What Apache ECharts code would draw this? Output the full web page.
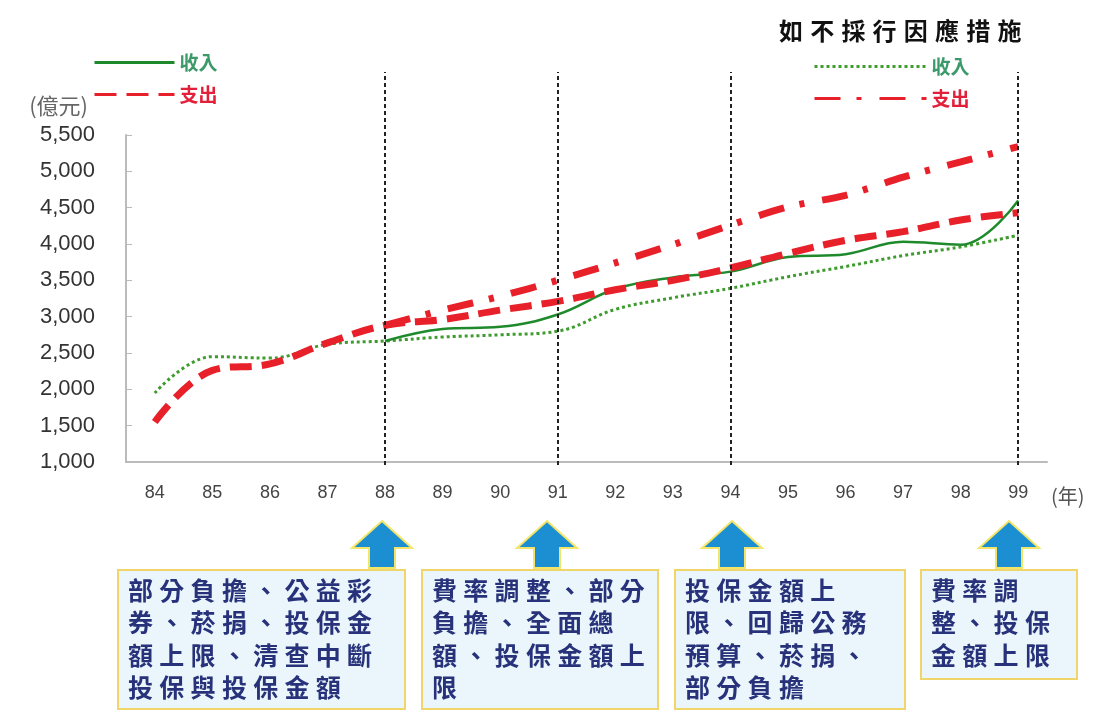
<!DOCTYPE html>
<html>
<head>
<meta charset="utf-8">
<title>健保收支</title>
<script src="https://cdn.jsdelivr.net/npm/echarts@6.0.0/dist/echarts.min.js"></script>
<style>
  html, body { margin: 0; padding: 0; background: #fff; }
  #chart { width: 1099px; height: 711px; }
</style>
</head>
<body>
<div id="chart"></div>
<script>
  // 年度 (民國)
  const years = ['84','85','86','87','88','89','90','91','92','93','94','95','96','97','98','99'];
  // 收入 (實線, 88年起)
  const income = ['-','-','-','-',2665,2830,2860,3030,3380,3540,3620,3820,3860,4030,3990,4600];
  // 支出 (虛線)
  const expense = [1550,2260,2350,2640,2880,2960,3090,3210,3370,3500,3670,3870,4050,4170,4330,4430];
  // 如不採行因應措施 收入 (點線)
  const incomeNoAction = [1950,2450,2430,2620,2665,2720,2750,2800,3100,3260,3390,3550,3690,3840,3960,4120];
  // 如不採行因應措施 支出 (點虛線)
  const expenseNoAction = ['-','-','-','-',2880,3090,3280,3500,3740,3990,4260,4510,4670,4920,5130,5340];
  // 政策調整的年度 (垂直虛線)
  const policyYears = ['88','91','94','99'];
  // 下方說明框文字
  const notes = [
    ['部分負擔、公益彩','券、菸捐、投保金','額上限、清查中斷','投保與投保金額'],
    ['費率調整、部分','負擔、全面總','額、投保金額上','限'],
    ['投保金額上','限、回歸公務','預算、菸捐、','部分負擔'],
    ['費率調','整、投保','金額上限']
  ];
  const title = '如不採行因應措施';

  const CJK = '"Noto Sans CJK TC", "Noto Sans CJK SC", sans-serif';
  const green = '#1f8a2c';
  const greenDot = '#3e9b2e';
  const red = '#e8202a';
  const legendGreen = '#3c9a6a';
  const legendRed = '#e3203a';

  // 一個字一個字排, 才能有字距
  function charRow(str, x, y, size, step, color, weight) {
    return str.split('').map((c, i) => ({
      type: 'text',
      x: x + i * step,
      y: y,
      style: {
        text: c,
        font: weight + ' ' + size + 'px ' + CJK,
        fill: color,
        verticalAlign: 'middle'
      }
    }));
  }

  const graphics = [];
  // 標題
  graphics.push(...charRow(title, 779, 31, 24, 31.2, '#111', 'bold'));

  // 箭頭
  const arrowX = [382, 547, 732, 1009];
  arrowX.forEach(ax => {
    graphics.push({
      type: 'polygon',
      x: ax, y: 521,
      shape: { points: [[0,0],[30,27],[13,27],[13,47],[-13,47],[-13,27],[-30,27]] },
      style: { fill: '#1b8fd2', stroke: '#f2e56a', lineWidth: 2 }
    });
  });

  // 說明框
  const boxes = [
    { x: 118, y: 570, w: 287, h: 139 },
    { x: 422, y: 570, w: 236, h: 139 },
    { x: 675, y: 570, w: 230, h: 139 },
    { x: 921, y: 570, w: 156, h: 109 }
  ];
  boxes.forEach((b, k) => {
    graphics.push({
      type: 'rect',
      shape: { x: b.x, y: b.y, width: b.w, height: b.h },
      style: { fill: '#eaf6fb', stroke: '#f0d56a', lineWidth: 2 }
    });
    notes[k].forEach((line, j) => {
      graphics.push(...charRow(line, b.x + 10, 590 + j * 32.5, 25, 31.3, '#28327a', 'bold'));
    });
  });

  const legendText = { fontFamily: CJK, fontWeight: 'bold', fontSize: 19 };

  const chart = echarts.init(document.getElementById('chart'));
  chart.setOption({
    animation: false,
    textStyle: { fontFamily: '"Liberation Sans", Arial, sans-serif' },
    grid: [
      { left: 126, right: 52, top: 135, bottom: 249 },
      { left: 126, right: 52, top: 72, bottom: 246 }
    ],
    legend: [
      {
        data: [
          { name: '收入', textStyle: { color: legendGreen } },
          { name: '支出', textStyle: { color: legendRed } }
        ],
        orient: 'vertical',
        left: 93, top: 53, padding: 0,
        itemWidth: 80, itemHeight: 20, itemGap: 13,
        lineStyle: { width: 3 },
        itemStyle: { opacity: 0 },
        textStyle: legendText,
        selectedMode: false
      },
      {
        data: [
          { name: '如不採行收入', textStyle: { color: legendGreen } },
          { name: '如不採行支出', textStyle: { color: legendRed } }
        ],
        orient: 'vertical',
        left: 813, top: 57, padding: 0,
        itemWidth: 112, itemHeight: 20, itemGap: 13,
        lineStyle: { width: 3 },
        itemStyle: { opacity: 0 },
        formatter: n => n.replace('如不採行', ''),
        textStyle: legendText,
        selectedMode: false
      }
    ],
    xAxis: [
      {
        type: 'category',
        data: years,
        boundaryGap: true,
        name: '(年)',
        nameLocation: 'end',
        nameGap: 4,
        nameTextStyle: { fontSize: 20, color: '#555', fontFamily: CJK, verticalAlign: 'top', padding: [24, 0, 0, 0] },
        axisLine: { lineStyle: { color: '#bbb', width: 2 } },
        axisTick: { show: false },
        axisLabel: { color: '#444', fontSize: 18, margin: 22 },
        splitLine: { show: false }
      },
      { type: 'category', data: years, gridIndex: 1, boundaryGap: true, show: false }
    ],
    yAxis: [
      {
        type: 'value',
        min: 1000, max: 5500, interval: 500,
        name: '(億元)',
        nameGap: 18,
        nameTextStyle: { fontSize: 22, color: '#666', fontFamily: CJK, align: 'right', padding: [0, 38, 0, 0] },
        axisLine: { show: true, lineStyle: { color: '#bbb', width: 2 } },
        axisTick: { show: true, inside: true, length: 6, lineStyle: { color: '#bbb' } },
        axisLabel: {
          color: '#333', fontSize: 22, margin: 31,
          formatter: v => v.toLocaleString('en-US')
        },
        splitLine: { show: false }
      },
      { type: 'value', gridIndex: 1, min: 0, max: 1, show: false }
    ],
    series: [
      {
        name: '如不採行收入',
        type: 'line',
        data: incomeNoAction,
        smooth: 0.4,
        symbol: 'none',
        z: 2,
        lineStyle: { color: greenDot, width: 3, type: [3, 3] },
        itemStyle: { color: greenDot }
      },
      {
        name: '收入',
        type: 'line',
        data: income,
        smooth: 0.4,
        symbol: 'none',
        z: 3,
        lineStyle: { color: green, width: 2.5 },
        itemStyle: { color: green }
      },
      {
        name: '支出',
        type: 'line',
        data: expense,
        smooth: 0.4,
        symbol: 'none',
        z: 4,
        lineStyle: { color: red, width: 7, type: [22, 10] },
        itemStyle: { color: red }
      },
      {
        name: '如不採行支出',
        type: 'line',
        data: expenseNoAction,
        smooth: 0.3,
        symbol: 'none',
        z: 4,
        lineStyle: { color: red, width: 7, type: [26, 16, 5, 18] },
        itemStyle: { color: red }
      },
      {
        // 政策年度的垂直虛線
        name: 'policy',
        type: 'line',
        xAxisIndex: 1,
        yAxisIndex: 1,
        data: [],
        symbol: 'none',
        markLine: {
          silent: true,
          symbol: 'none',
          label: { show: false },
          lineStyle: { color: '#222', width: 2, type: [4, 3] },
          data: policyYears.map(y => ({ xAxis: y }))
        }
      }
    ],
    graphic: graphics
  });
</script>
</body>
</html>
